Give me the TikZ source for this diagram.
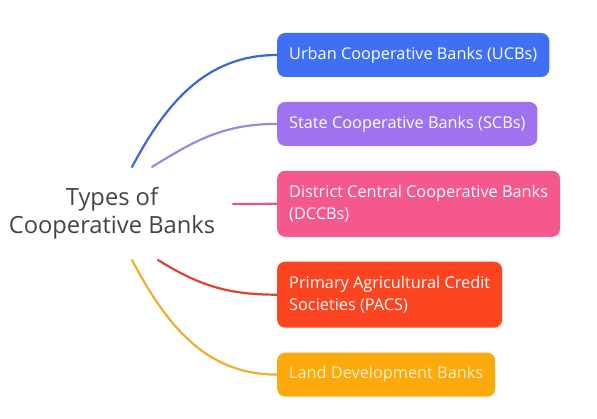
\documentclass[tikz,border=0pt]{standalone}
\usepackage{fontspec}
\setmainfont{Open Sans}
\usepackage{tikz}
\usetikzlibrary{positioning}
\definecolor{UCB}{HTML}{3F6FF5}
\definecolor{SCB}{HTML}{A172F0}
\definecolor{DCCB}{HTML}{F5578F}
\definecolor{PACS}{HTML}{FC4420}
\definecolor{LDB}{HTML}{FCA90C}
\definecolor{UCBline}{HTML}{3E66D8}
\definecolor{SCBline}{HTML}{A285E0}
\definecolor{DCCBline}{HTML}{E0578A}
\definecolor{PACSline}{HTML}{DB4430}
\definecolor{LDBline}{HTML}{EFB030}
\definecolor{Ink}{HTML}{444444}

\begin{document}
\begin{tikzpicture}[x=1pt,y=1pt,
  every node/.style={align=left},
  bank/.style={rounded corners=8pt,inner xsep=12pt,minimum height=44pt,text=white,font=\fontsize{16.3}{22}\selectfont},
  branch/.style={line width=2.2pt,line cap=round}]
  \useasboundingbox (0,0) rectangle (597,418);
  \node[align=center,text=Ink,font=\fontsize{23.7}{28}\selectfont] (root) at (112,205) {Types of\\Cooperative Banks};
  \node[bank,fill=UCB,anchor=west] (ucb) at (277,363) {Urban Cooperative Banks (UCBs)};
  \node[bank,fill=SCB,below=24.5pt of ucb.south west,anchor=north west] (scb) {State Cooperative Banks (SCBs)};
  \node[bank,fill=DCCB,minimum height=66pt,below=24.5pt of scb.south west,anchor=north west] (dccb) {District Central Cooperative Banks\\(DCCBs)};
  \node[bank,fill=PACS,minimum height=66pt,below=24.5pt of dccb.south west,anchor=north west] (pacs) {Primary Agricultural Credit\\Societies (PACS)};
  \node[bank,fill=LDB,text=LDB!20,below=24.5pt of pacs.south west,anchor=north west] (ldb) {Land Development Banks};
  % free ends near the root text
  \coordinate (r1) at (132,251);\coordinate (r2) at (152,251);\coordinate (r3) at (233,214);
  \coordinate (r4) at (158,158);\coordinate (r5) at (132,158);
  \draw[branch,UCBline] (r1) to[out=62,in=180] (ucb.west);
  \draw[branch,SCBline] (r2) to[out=32,in=180] (scb.west);
  \draw[branch,DCCBline] (r3) -- (dccb.west);
  \draw[branch,PACSline] (r4) to[out=-32,in=180] (pacs.west);
  \draw[branch,LDBline] (r5) to[out=-62,in=180] (ldb.west);
\end{tikzpicture}
\end{document}
